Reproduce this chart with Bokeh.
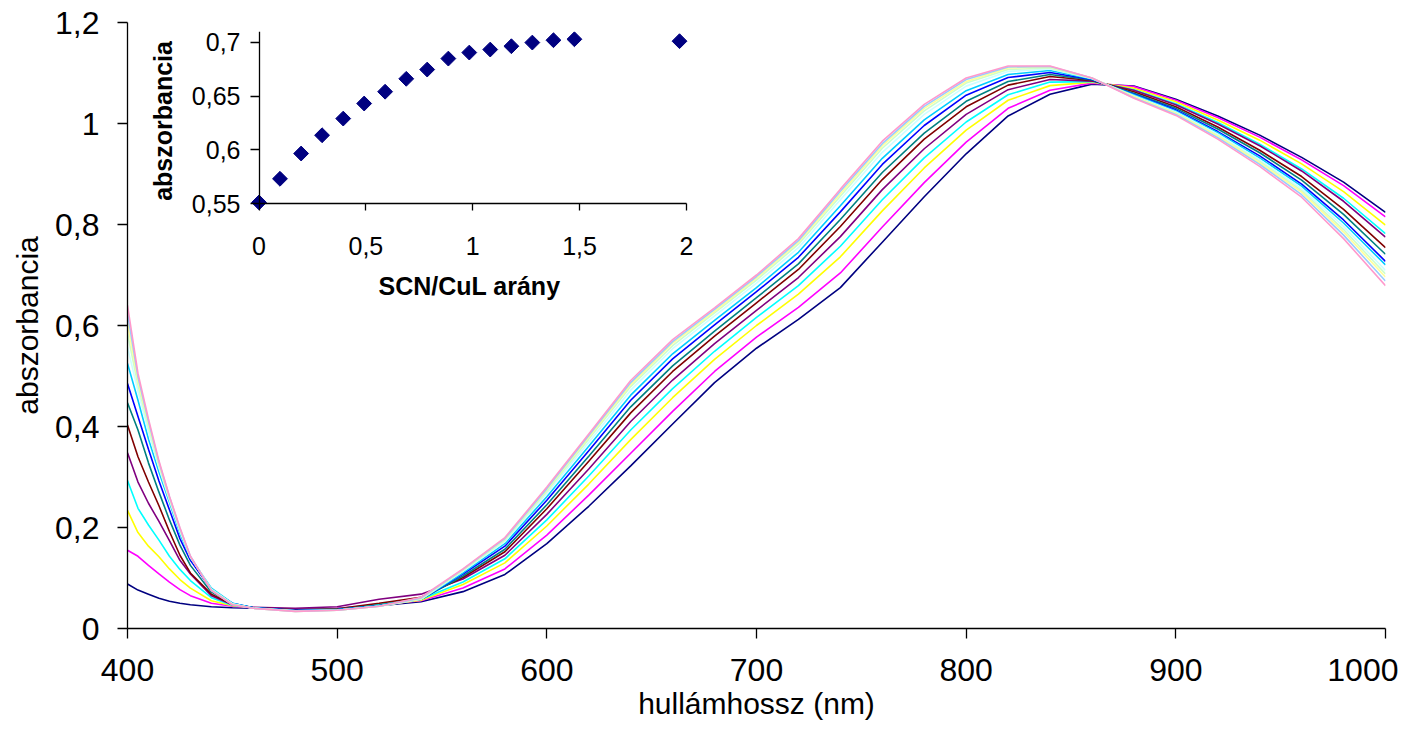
import numpy as np
from bokeh.plotting import figure
from bokeh.models import Range1d, FixedTicker, CustomJSTickFormatter, LinearAxis
from bokeh.layouts import column
from bokeh.embed import file_html
from bokeh.resources import INLINE

FONT = "Liberation Sans"

# ---------------- main spectra data ----------------
wavelength = [400, 405, 410, 415, 420, 425, 430, 440, 450, 460, 480, 500, 520, 540,
              560, 580, 600, 620, 640, 660, 680, 700, 720, 740, 760, 780, 800, 820,
              840, 860, 880, 900, 920, 940, 960, 980, 1000]

navy = [.088, .076, .068, .060, .054, .050, .047, .043, .041, .040, .038, .039, .045, .053,
        .073, .107, .168, .242, .322, .405, .487, .555, .612, .675, .765, .855, .940, 1.015,
        1.058, 1.078, 1.074, 1.048, 1.015, .977, .933, .884, .824]
magenta = [.155, .143, .125, .108, .092, .077, .065, .050, .044, .041, .037, .040, .047, .055,
           .080, .118, .185, .264, .347, .430, .509, .577, .636, .704, .795, .883, .963, 1.030,
           1.066, 1.080, 1.073, 1.046, 1.012, .973, .928, .877, .815]
yellow = [.234, .190, .163, .142, .118, .097, .080, .055, .045, .041, .036, .037, .046, .056,
          .087, .130, .203, .286, .374, .457, .533, .600, .662, .736, .827, .912, .987, 1.046,
          1.075, 1.082, 1.070, 1.043, 1.007, .967, .920, .865, .799]
cyan = [.293, .238, .205, .175, .143, .117, .095, .061, .046, .041, .037, .039, .048, .058,
        .092, .138, .215, .302, .393, .475, .549, .616, .679, .757, .849, .932, 1.003, 1.057,
        1.082, 1.083, 1.067, 1.039, 1.002, .959, .910, .852, .782]
purple = [.348, .290, .248, .212, .174, .135, .108, .065, .047, .042, .040, .043, .058, .068,
          .098, .145, .226, .316, .410, .492, .564, .630, .695, .776, .869, .950, 1.018, 1.067,
          1.087, 1.084, 1.066, 1.037, .999, .956, .906, .846, .775]
darkred = [.403, .340, .290, .243, .192, .145, .110, .068, .048, .041, .037, .039, .050, .062,
           .101, .152, .237, .331, .427, .509, .579, .645, .711, .796, .889, .969, 1.033, 1.076,
           1.093, 1.085, 1.063, 1.033, .993, .947, .895, .830, .754]
teal = [.447, .393, .328, .270, .215, .165, .125, .072, .049, .041, .036, .038, .046, .058,
        .104, .157, .245, .341, .439, .520, .589, .655, .722, .810, .903, .981, 1.044, 1.083,
        1.097, 1.086, 1.060, 1.030, .989, .942, .888, .820, .741]
blue = [.485, .420, .355, .292, .235, .178, .135, .077, .050, .041, .036, .037, .045, .058,
        .108, .163, .254, .352, .452, .534, .601, .667, .735, .825, .919, .996, 1.056, 1.091,
        1.101, 1.087, 1.058, 1.027, .984, .936, .880, .809, .727]
skyblue = [.525, .452, .375, .310, .250, .188, .140, .080, .050, .041, .035, .037, .045, .058,
           .110, .168, .261, .361, .462, .544, .610, .675, .745, .837, .931, 1.007, 1.065, 1.097,
           1.105, 1.088, 1.057, 1.025, .982, .932, .876, .803, .720]
ltturquoise = [.557, .470, .390, .318, .254, .192, .141, .078, .049, .040, .035, .036, .044, .058,
               .113, .172, .268, .369, .472, .554, .619, .684, .754, .849, .943, 1.018, 1.074, 1.103,
               1.108, 1.089, 1.055, 1.023, .979, .928, .871, .796, .709]
ltgreen = [.584, .482, .400, .323, .257, .195, .142, .077, .048, .040, .035, .036, .044, .058,
           .115, .175, .272, .375, .479, .560, .625, .690, .761, .856, .951, 1.025, 1.080, 1.107,
           1.110, 1.089, 1.054, 1.021, .976, .925, .867, .790, .702]
ltyellow = [.604, .490, .405, .326, .259, .197, .142, .076, .048, .040, .034, .036, .044, .059,
            .116, .177, .275, .379, .483, .565, .628, .694, .765, .861, .956, 1.030, 1.083, 1.110,
            1.112, 1.090, 1.053, 1.020, .975, .922, .864, .785, .696]
paleblue = [.624, .498, .410, .329, .261, .198, .143, .076, .047, .040, .034, .036, .044, .060,
            .117, .178, .277, .382, .487, .568, .632, .697, .768, .866, .960, 1.034, 1.087, 1.112,
            1.113, 1.090, 1.051, 1.018, .972, .919, .859, .779, .688]
rose = [.640, .505, .415, .332, .262, .200, .143, .075, .047, .040, .034, .036, .044, .062,
        .118, .180, .280, .385, .491, .572, .635, .700, .772, .870, .965, 1.038, 1.090, 1.114,
        1.114, 1.090, 1.050, 1.016, .969, .915, .854, .772, .679]

series = [navy, magenta, yellow, cyan, purple, darkred, teal, blue, skyblue,
          ltturquoise, ltgreen, ltyellow, paleblue, rose]
colors = ["#000080", "#FF00FF", "#FFFF00", "#00FFFF", "#800080", "#800000", "#008080",
          "#0000FF", "#00CCFF", "#CCFFFF", "#CCFFCC", "#FFFF99", "#99CCFF", "#FF99CC"]

x_ticks = [400, 500, 600, 700, 800, 900, 1000]
y_ticks = [0, 0.2, 0.4, 0.6, 0.8, 1.0, 1.2]

# ---------------- inset data ----------------
ratio = [0, 0.098, 0.197, 0.295, 0.394, 0.492, 0.590, 0.689, 0.787, 0.886, 0.984,
         1.082, 1.181, 1.279, 1.378, 1.476, 1.968]
absorbance = [0.551, 0.573, 0.5965, 0.6135, 0.629, 0.643, 0.654, 0.666, 0.6746, 0.6848,
              0.6904, 0.6932, 0.6963, 0.6997, 0.7019, 0.7028, 0.701]
inset_x_ticks = [0, 0.5, 1, 1.5, 2]
inset_y_ticks = [0.55, 0.6, 0.65, 0.7]

comma = CustomJSTickFormatter(code="return String(Math.round(tick*1000)/1000).replace('.', ',');")


def style_axis(ax, size, tick_out, standoff, label_size, label_standoff, bold=False):
    ax.axis_line_color = "black"
    ax.axis_line_width = 1.3
    ax.major_tick_line_color = "black"
    ax.major_tick_line_width = 1.3
    ax.major_tick_out = tick_out
    ax.major_tick_in = 0
    ax.minor_tick_line_color = None
    ax.major_label_text_font = FONT
    ax.major_label_text_font_size = size
    ax.major_label_text_color = "black"
    ax.major_label_standoff = standoff
    ax.axis_label_text_font = FONT
    ax.axis_label_text_font_size = label_size
    ax.axis_label_text_font_style = "bold" if bold else "normal"
    ax.axis_label_text_color = "black"
    ax.axis_label_standoff = label_standoff


# ---------------- main figure ----------------
p = figure(width=1424, height=748, output_backend="svg", toolbar_location=None,
           x_range=Range1d(400, 1000), y_range=Range1d(0, 1.2),
           min_border_left=127, min_border_right=13, min_border_top=22, min_border_bottom=120,
           x_axis_label="hullámhossz (nm)", y_axis_label="abszorbancia")
p.outline_line_color = None
p.grid.visible = False
p.background_fill_color = "white"
p.border_fill_color = "white"
p.margin = (0, 0, 0, -13)

for ys, col in zip(series, colors):
    p.line(wavelength, ys, line_color=col, line_width=1.6)

p.xaxis.ticker = FixedTicker(ticks=x_ticks)
p.yaxis.ticker = FixedTicker(ticks=y_ticks)
p.xaxis.formatter = comma
p.yaxis.formatter = comma
style_axis(p.xaxis[0], "32px", 10, 20, "30px", 3)
style_axis(p.yaxis[0], "32px", 10, 18, "30px", 8)

# ---------------- inset figure ----------------
q = figure(frame_width=438, frame_height=179, output_backend="svg", toolbar_location=None,
           x_range=Range1d(-0.04, 2.01), y_range=Range1d(0.5435, 0.71),
           min_border_left=140, min_border_right=10, min_border_top=10, min_border_bottom=120,
           x_axis_label="SCN/CuL arány", y_axis_label="abszorbancia")
q.outline_line_color = None
q.grid.visible = False
q.background_fill_alpha = 0
q.border_fill_alpha = 0
q.scatter(ratio, absorbance, marker="square", angle=np.pi / 4, size=10.5,
          fill_color="#000080", line_color="#000080")

# label-only axes (sit in the side panels)
q.xaxis.ticker = FixedTicker(ticks=inset_x_ticks)
q.yaxis.ticker = FixedTicker(ticks=inset_y_ticks)
q.xaxis.formatter = comma
q.yaxis.formatter = comma
style_axis(q.xaxis[0], "25px", 0, 26, "25px", 14, bold=True)
style_axis(q.yaxis[0], "25px", 0, 10, "25px", 12, bold=True)
for ax in (q.xaxis[0], q.yaxis[0]):
    ax.axis_line_color = None
    ax.major_tick_line_color = None

# line + tick axes drawn at the data origin
fx = LinearAxis(fixed_location=0.55, bounds=(0, 2), ticker=FixedTicker(ticks=inset_x_ticks),
                major_label_text_font_size="1px", major_label_text_alpha=0,
                major_tick_out=8, major_tick_in=0, minor_tick_line_color=None,
                axis_line_width=1.3, major_tick_line_width=1.3)
fy = LinearAxis(fixed_location=0, bounds=(0.55, 0.71), ticker=FixedTicker(ticks=inset_y_ticks),
                major_label_text_font_size="1px", major_label_text_alpha=0,
                major_tick_out=10, major_tick_in=0, minor_tick_line_color=None,
                axis_line_width=1.3, major_tick_line_width=1.3)
q.add_layout(fx, "below")
q.add_layout(fy, "left")

q.styles = {"position": "absolute", "left": "110px", "top": "21px", "z-index": "5"}

layout = column(p, q)
open("out.html", "w").write(file_html(layout, INLINE))
